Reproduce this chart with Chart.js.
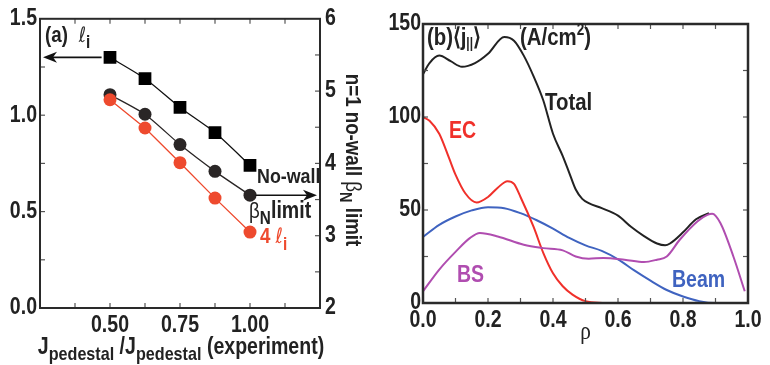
<!DOCTYPE html>
<html>
<head>
<meta charset="utf-8">
<script src="https://cdn.jsdelivr.net/npm/chart.js@4.4.1/dist/chart.umd.min.js"></script>
<style>
  html, body { margin: 0; padding: 0; background: #fff; }
  #wrap { position: relative; width: 770px; height: 365px; }
  #wrap canvas { position: absolute; top: 0; }
  #chartA { left: 0; }
  #chartB { left: 385px; }
</style>
</head>
<body>
<div id="wrap">
  <canvas id="chartA" width="385" height="365"></canvas>
  <canvas id="chartB" width="385" height="365"></canvas>
</div>
<script>
// ---- panel (a): pedestal current scan ----
const jRatio = [0.5, 0.625, 0.75, 0.875, 1.0];
const internalInductance = [1.30, 1.19, 1.04, 0.91, 0.74];   // left axis
const betaNLimit = [4.95, 4.68, 4.26, 3.89, 3.56];           // right axis
const fourLi = [4.88, 4.49, 4.01, 3.52, 3.05];               // right axis
const xTicksA = [0.50, 0.75, 1.00];

// ---- panel (b): current density profiles ----
const rhoTotal = [0, 0.02, 0.05, 0.085, 0.12, 0.16, 0.2, 0.25, 0.28, 0.31, 0.34, 0.37, 0.4, 0.43, 0.45, 0.47, 0.49, 0.51, 0.55, 0.6, 0.64, 0.68, 0.72, 0.745, 0.76, 0.8, 0.84, 0.88];
const totalJ   = [123, 129, 133, 130, 127, 129, 134, 143, 141, 133, 122, 109, 91, 79, 70, 61, 56, 53.7, 51, 47, 41, 36, 32, 31, 32, 38, 45, 48.3];
const rhoEC = [0, 0.02, 0.05, 0.08, 0.1, 0.13, 0.165, 0.2, 0.23, 0.26, 0.28, 0.3, 0.34, 0.37, 0.4, 0.43, 0.46, 0.5, 0.56];
const ecJ   = [100, 98, 91, 78, 69, 59, 54, 57, 62, 65.5, 64, 57, 41, 27, 16, 9, 4.5, 1, 0];
const rhoBeam = [0, 0.05, 0.1, 0.15, 0.2, 0.25, 0.3, 0.35, 0.4, 0.45, 0.5, 0.55, 0.6, 0.65, 0.7, 0.75, 0.8, 0.85, 0.9, 1.0];
const beamJ   = [35.5, 42, 46.5, 49.8, 51.5, 51, 48.3, 44.5, 40, 35, 31, 28, 23.5, 17.5, 12, 7, 3.5, 1, 0, 0];
const rhoBS = [0, 0.05, 0.1, 0.145, 0.175, 0.23, 0.31, 0.37, 0.43, 0.47, 0.51, 0.555, 0.62, 0.68, 0.72, 0.75, 0.79, 0.845, 0.875, 0.89, 0.915, 0.955, 0.99];
const bsJ   = [6.3, 18, 27.5, 35, 37.6, 35.8, 31.3, 29.5, 28.3, 25, 23.8, 24.2, 23.3, 22, 23.3, 25, 34, 44, 47.4, 48, 43, 25, 6.3];

const FAM = '"Liberation Sans", Arial, sans-serif';
const tickFont = { family: FAM, size: 23, weight: 'bold' };
const INK = '#222';
const RED = '#ee4a2e';
const NARROW = 0.85;   // the figure uses a condensed face, squeeze text horizontally

const pts = (xs, ys) => xs.map((x, i) => ({ x: x, y: ys[i] }));

// condense every text draw on a canvas (tick labels included)
function condense(canvas) {
  const ctx = canvas.getContext('2d');
  const orig = ctx.fillText;
  ctx.fillText = function (t, x, y, mw) {
    this.save();
    this.translate(x, y);
    this.scale(NARROW, 1);
    if (mw === undefined) orig.call(this, t, 0, 0);
    else orig.call(this, t, 0, 0, mw / NARROW);
    this.restore();
  };
}

// draw a run of text pieces (sub/superscripts) starting at x, baseline y
function rich(ctx, x, y, parts, align) {
  let w = 0;
  parts.forEach(p => { ctx.font = p.font; w += ctx.measureText(p.t).width * NARROW; });
  let cx = align === 'center' ? x - w / 2 : x;
  ctx.textBaseline = 'alphabetic';
  ctx.textAlign = 'left';
  parts.forEach(p => {
    ctx.font = p.font;
    ctx.fillStyle = p.color || INK;
    ctx.fillText(p.t, cx, y + (p.dy || 0));
    cx += ctx.measureText(p.t).width * NARROW;
  });
}

function arrow(ctx, x1, y, x2) {
  const dir = Math.sign(x2 - x1);
  ctx.strokeStyle = '#111';
  ctx.fillStyle = '#111';
  ctx.lineWidth = 1.6;
  ctx.beginPath();
  ctx.moveTo(x1, y);
  ctx.lineTo(x2 - dir * 10, y);
  ctx.stroke();
  ctx.beginPath();
  ctx.moveTo(x2, y);
  ctx.lineTo(x2 - dir * 14, y - 5.5);
  ctx.lineTo(x2 - dir * 10, y);
  ctx.lineTo(x2 - dir * 14, y + 5.5);
  ctx.closePath();
  ctx.fill();
}

// box frame and inward tick marks
const framePlugin = {
  id: 'frame',
  afterDatasetsDraw(chart, args, opts) {
    const ctx = chart.ctx, a = chart.chartArea;
    ctx.save();
    ctx.strokeStyle = '#555';
    ctx.lineWidth = 1.2;
    opts.marks.forEach(m => {
      const s = chart.scales[m.scale];
      for (let v = m.from; v <= m.to + 1e-9; v += m.step) {
        const p = s.getPixelForValue(v);
        ctx.beginPath();
        if (m.side === 'bottom') { ctx.moveTo(p, a.bottom); ctx.lineTo(p, a.bottom - 5); }
        if (m.side === 'top') { ctx.moveTo(p, a.top); ctx.lineTo(p, a.top + 5); }
        if (m.side === 'left') { ctx.moveTo(a.left, p); ctx.lineTo(a.left + 5, p); }
        if (m.side === 'right') { ctx.moveTo(a.right, p); ctx.lineTo(a.right - 5, p); }
        ctx.stroke();
      }
    });
    ctx.strokeStyle = '#2a2a2a';
    ctx.lineWidth = opts.border;
    ctx.strokeRect(a.left, a.top, a.right - a.left, a.bottom - a.top);
    ctx.restore();
  }
};

const B = s => 'bold ' + s + 'px ' + FAM;
const ELL = s => s + 'px "DejaVu Sans"';

const labelsA = {
  id: 'labelsA',
  afterDraw(chart) {
    const ctx = chart.ctx, a = chart.chartArea;
    const x = chart.scales.x, y = chart.scales.y, y2 = chart.scales.y2;
    ctx.save();
    rich(ctx, 45, 42, [
      { t: '(a) ', font: B(22) },
      { t: ' ℓ', font: ELL(21), color: '#333' },
      { t: 'i', font: B(18), dy: 6 }
    ]);
    arrow(ctx, x.getPixelForValue(0.47), y.getPixelForValue(internalInductance[0]), a.left + 3);
    arrow(ctx, x.getPixelForValue(1.02), y2.getPixelForValue(betaNLimit[4]), a.right - 3);
    rich(ctx, 257, 183, [{ t: 'No-wall', font: B(21) }]);
    rich(ctx, 249, 218, [
      { t: 'β', font: '22px ' + FAM },
      { t: 'N', font: B(18), dy: 6 }
    ]);
    rich(ctx, 271, 218, [{ t: 'limit', font: B(23) }]);
    rich(ctx, 260, 243, [
      { t: '4 ', font: B(22), color: RED },
      { t: 'ℓ', font: ELL(21), color: RED },
      { t: 'i', font: B(18), dy: 7, color: RED }
    ]);
    // bottom axis title
    rich(ctx, (a.left + a.right) / 2 + 1, 354, [
      { t: 'J', font: B(23) },
      { t: 'pedestal', font: B(19), dy: 6 },
      { t: ' /J', font: B(23) },
      { t: 'pedestal', font: B(19), dy: 6 },
      { t: ' (experiment)', font: B(23) }
    ], 'center');
    // right axis title, rotated clockwise
    ctx.translate(346, 160);
    ctx.rotate(Math.PI / 2);
    rich(ctx, 0, 0, [
      { t: 'n=1 no-wall ', font: B(22) },
      { t: 'β', font: '22px ' + FAM },
      { t: 'N', font: B(17), dy: 6 },
      { t: ' limit', font: B(22) }
    ], 'center');
    ctx.restore();
  }
};

const labelsB = {
  id: 'labelsB',
  afterDraw(chart) {
    const ctx = chart.ctx, a = chart.chartArea;
    ctx.save();
    rich(ctx, 42, 45, [
      { t: '(b)', font: B(24) },
      { t: '⟨', font: B(24) },
      { t: 'j', font: B(24) },
      { t: '||', font: B(14), dy: 3 },
      { t: '⟩', font: B(24) }
    ]);
    rich(ctx, 135, 45, [
      { t: '(A/cm', font: B(24) },
      { t: '2', font: B(16), dy: -10 },
      { t: ')', font: B(24) }
    ]);
    rich(ctx, 160, 110, [{ t: 'Total', font: B(24) }]);
    rich(ctx, 64, 138, [{ t: 'EC', font: B(23), color: '#f0302a' }]);
    rich(ctx, 72, 282, [{ t: 'BS', font: B(23), color: '#b04db0' }]);
    rich(ctx, 287, 287, [{ t: 'Beam', font: B(23), color: '#3f63c0' }]);
    ctx.font = '25px "Liberation Serif", serif';
    ctx.fillStyle = INK;
    ctx.textAlign = 'center';
    ctx.fillText('ρ', (a.left + a.right) / 2, 339);
    ctx.restore();
  }
};

const noGrid = { display: false, drawTicks: false };

const canvasA = document.getElementById('chartA');
const canvasB = document.getElementById('chartB');
condense(canvasA);
condense(canvasB);

new Chart(canvasA, {
  type: 'line',
  data: {
    datasets: [
      {
        data: pts(jRatio, fourLi), yAxisID: 'y2', order: 0,
        borderColor: RED, backgroundColor: RED, borderWidth: 1.3,
        pointRadius: 6.5, pointStyle: 'circle', pointBorderWidth: 0, tension: 0
      },
      {
        data: pts(jRatio, betaNLimit), yAxisID: 'y2', order: 1,
        borderColor: '#2a2626', backgroundColor: '#2a2626', borderWidth: 1.3,
        pointRadius: 6.5, pointStyle: 'circle', pointBorderWidth: 0, tension: 0.2
      },
      {
        data: pts(jRatio, internalInductance), yAxisID: 'y', order: 2,
        borderColor: '#111', backgroundColor: '#000', borderWidth: 1.3,
        pointRadius: 9, pointStyle: 'rect', pointBorderWidth: 0, tension: 0.2
      }
    ]
  },
  options: {
    responsive: false,
    animation: false,
    devicePixelRatio: 1,
    layout: { padding: { top: 18, left: 0, right: 0, bottom: 0 } },
    plugins: {
      legend: { display: false },
      tooltip: { enabled: false },
      frame: {
        border: 2,
        marks: [
          { scale: 'x', side: 'bottom', from: 0.375, to: 1.125, step: 0.125 },
          { scale: 'x', side: 'top', from: 0.375, to: 1.125, step: 0.125 },
          { scale: 'y', side: 'left', from: 0.25, to: 1.25, step: 0.25 },
          { scale: 'y2', side: 'right', from: 2.5, to: 5.5, step: 0.5 }
        ]
      }
    },
    scales: {
      x: {
        type: 'linear', min: 0.25, max: 1.25,
        grid: noGrid, border: { display: false },
        ticks: {
          stepSize: 0.25, padding: 4, color: INK, font: tickFont, maxRotation: 0,
          callback: v => xTicksA.some(t => Math.abs(t - v) < 1e-6) ? v.toFixed(2) : ''
        },
        afterFit: s => { s.height = 57; }
      },
      y: {
        position: 'left', min: 0, max: 1.5,
        grid: noGrid, border: { display: false },
        ticks: { stepSize: 0.5, padding: 3, color: INK, font: tickFont, callback: v => v.toFixed(1) },
        afterFit: s => { s.width = 40; }
      },
      y2: {
        position: 'right', min: 2, max: 6,
        grid: noGrid, border: { display: false },
        ticks: { stepSize: 1, padding: 5, color: INK, font: tickFont },
        afterFit: s => { s.width = 65; }
      }
    }
  },
  plugins: [framePlugin, labelsA]
});

const profileLine = (xs, ys, color, order) => ({
  data: pts(xs, ys), borderColor: color, borderWidth: 2, pointRadius: 0,
  cubicInterpolationMode: 'monotone', order: order
});

new Chart(canvasB, {
  type: 'line',
  data: {
    datasets: [
      profileLine(rhoBS, bsJ, '#b04db0', 0),
      profileLine(rhoTotal, totalJ, '#222', 1),
      profileLine(rhoEC, ecJ, '#f0302a', 2),
      profileLine(rhoBeam, beamJ, '#3f63c0', 3)
    ]
  },
  options: {
    responsive: false,
    animation: false,
    devicePixelRatio: 1,
    layout: { padding: { top: 24, left: 0, right: 22, bottom: 0 } },
    plugins: {
      legend: { display: false },
      tooltip: { enabled: false },
      frame: {
        border: 2.5,
        marks: [
          { scale: 'x', side: 'bottom', from: 0.1, to: 0.9, step: 0.1 },
          { scale: 'x', side: 'top', from: 0.1, to: 0.9, step: 0.1 },
          { scale: 'y', side: 'left', from: 25, to: 125, step: 25 },
          { scale: 'y', side: 'right', from: 25, to: 125, step: 25 }
        ]
      }
    },
    scales: {
      x: {
        type: 'linear', min: 0, max: 1,
        grid: noGrid, border: { display: false },
        ticks: { stepSize: 0.2, padding: 4, color: INK, font: tickFont, maxRotation: 0, callback: v => v.toFixed(1) },
        afterFit: s => { s.height = 62; }
      },
      y: {
        position: 'left', min: 0, max: 150,
        grid: noGrid, border: { display: false },
        ticks: { stepSize: 50, padding: 2, color: INK, font: tickFont },
        afterFit: s => { s.width = 38; }
      }
    }
  },
  plugins: [framePlugin, labelsB]
});
</script>
</body>
</html>
